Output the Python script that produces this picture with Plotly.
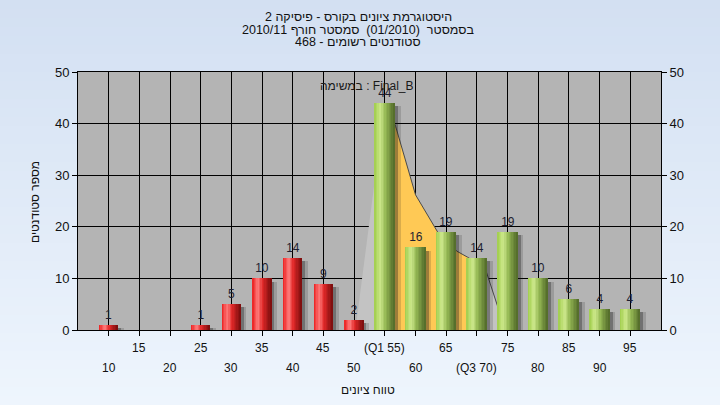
import plotly.graph_objects as go

# ---------------- data ----------------
grades = [10, 15, 20, 25, 30, 35, 40, 45, 50, 55, 60, 65, 70, 75, 80, 85, 90, 95]
counts = [1, 0, 0, 1, 5, 10, 14, 9, 2, 44, 16, 19, 14, 19, 10, 6, 4, 4]
tick_row1 = ["", "15", "", "25", "", "35", "", "45", "", "(Q1 55)", "", "65", "", "75", "", "85", "", "95"]
tick_row2 = ["10", "", "20", "", "30", "", "40", "", "50", "", "60", "", "(Q3 70)", "", "80", "", "90", ""]
pass_grade = 55
q1_grade = 55
q3_grade = 70
# smoothed distribution curve drawn behind the bars (grade, count)
curve_grade = [50.2, 55.0, 56.75, 60.0, 63.6, 66.7, 68.5, 70.0, 71.45, 73.4, 74.75]
curve_value = [0, 44, 39.5, 26.2, 19.0, 15.3, 14.1, 13.0, 11.6, 4.5, 0]

title_lines = ["היסטוגרמת ציונים בקורס - פיסיקה 2",
               "בסמסטר\u00a0\u00a0(01/2010)\u00a0\u00a0סמסטר חורף 2010/11",
               "סטודנטים רשומים - 468"]
task_label = "במשימה : Final_B"
x_title = "טווח ציונים"
y_title = "מספר סטודנטים"

FONT = "Liberation Sans, Arial, DejaVu Sans, sans-serif"
W, H = 720, 405
L, R, T, B = 78, 59, 72, 75
PH = H - T - B


def py(px):
    return (H - B - px) / PH


def px_x(px):
    return (px - L) / (W - L - R)


def lerp_col(stops, t):
    for (t0, c0), (t1, c1) in zip(stops[:-1], stops[1:]):
        if t0 <= t <= t1:
            f = (t - t0) / (t1 - t0) if t1 > t0 else 0
            return "rgb(%d,%d,%d)" % tuple(round(a + (b - a) * f) for a, b in zip(c0, c1))
    return "rgb(%d,%d,%d)" % stops[-1][1]


red_stops = [(0, (235, 30, 30)), (0.3, (255, 125, 125)), (0.55, (225, 40, 40)), (1, (120, 12, 12))]
green_stops = [(0, (160, 205, 75)), (0.3, (205, 232, 140)), (0.55, (150, 185, 85)), (1, (80, 105, 40))]

is_pass = [g >= pass_grade for g in grades]
widths = [3.25 if p else 3.0 for p in is_pass]

fig = go.Figure()

# shadows
for dx, alpha in [(0.95, 0.16), (0.5, 0.32)]:
    fig.add_trace(go.Bar(x=grades, y=[max(c - 0.6, 0) for c in counts],
                         width=widths, offset=[-w / 2 + dx for w in widths],
                         marker=dict(color="rgba(25,25,25,%s)" % alpha, line=dict(width=0)),
                         hoverinfo="skip"))

# cylinder bars drawn as vertical slices
N = 14
for i in range(N):
    t = (i + 0.5) / N
    cols = [lerp_col(green_stops if p else red_stops, t) for p in is_pass]
    fig.add_trace(go.Bar(x=grades, y=counts, width=[w / N + 0.02 for w in widths],
                         offset=[-w / 2 + i * w / N for w in widths],
                         marker=dict(color=cols, line=dict(width=0)), hoverinfo="skip"))

# value labels
fig.add_trace(go.Bar(x=grades, y=counts, width=widths,
                     text=[str(c) if c else "" for c in counts], textposition="outside",
                     constraintext="none", cliponaxis=False,
                     textfont=dict(family=FONT, size=12, color="#1e1e30"),
                     marker=dict(color="rgba(0,0,0,0)", line=dict(width=0)), hoverinfo="skip"))

# right axis helper
fig.add_trace(go.Scatter(x=[grades[0]], y=[0], yaxis="y2", mode="markers",
                         marker=dict(opacity=0), hoverinfo="skip", showlegend=False))

# background gradient
shapes = []
NS = 45
top_c, bot_c = (211, 224, 242), (238, 245, 253)
for i in range(NS):
    f = i / (NS - 1)
    c = tuple(round(a + (b - a) * f) for a, b in zip(top_c, bot_c))
    y0p = i * H / NS
    y1p = (i + 1) * H / NS + 1
    shapes.append(dict(type="rect", xref="paper", yref="paper", x0=-0.5, x1=1.5,
                       y0=py(y1p), y1=py(y0p), fillcolor="rgb(%d,%d,%d)" % c,
                       line=dict(width=0), layer="below"))
shapes.append(dict(type="rect", xref="paper", yref="paper", x0=0, x1=1, y0=0, y1=1,
                   fillcolor="#b4b4b4", line=dict(width=0), layer="below"))


def path_of(xs, ys, close=True):
    p = "M %s,%s " % (xs[0], 0 if close else ys[0])
    p += " ".join("L %s,%s" % (x, y) for x, y in zip(xs, ys))
    if close:
        p += " L %s,0 Z" % xs[-1]
    return p


# curve areas (between grid and bars)
shapes.append(dict(type="path", xref="x", yref="y", path=path_of(curve_grade, curve_value),
                   fillcolor="#c3c3c3", line=dict(width=0), layer="between"))
yx = [g for g in curve_grade if q1_grade <= g <= q3_grade]
yv = [v for g, v in zip(curve_grade, curve_value) if q1_grade <= g <= q3_grade]
shapes.append(dict(type="path", xref="x", yref="y", path=path_of(yx, yv),
                   fillcolor="#ffc955", line=dict(width=0), layer="between"))
lx = [g for g in curve_grade if g >= q1_grade]
lv = [v for g, v in zip(curve_grade, curve_value) if g >= q1_grade]
shapes.append(dict(type="path", xref="x", yref="y", path=path_of(lx, lv, close=False),
                   line=dict(color="#4a4a4a", width=1), layer="between"))

annotations = []
for line, ypx in zip(title_lines, [17, 30, 42]):
    annotations.append(dict(text=line, xref="paper", yref="paper", x=px_x(358), y=py(ypx),
                            showarrow=False, xanchor="center", yanchor="middle",
                            font=dict(family=FONT, size=12.5, color="#111111")))
annotations.append(dict(text=task_label, xref="paper", yref="paper", x=px_x(367), y=py(86),
                        showarrow=False, xanchor="center", yanchor="middle",
                        font=dict(family=FONT, size=12, color="#1a1a1a")))
for g, a, b in zip(grades, tick_row1, tick_row2):
    if a:
        annotations.append(dict(text=a, x=g, xref="x", yref="paper", y=py(348), showarrow=False,
                                xanchor="center", yanchor="middle",
                                font=dict(family=FONT, size=12, color="#111111")))
    if b:
        annotations.append(dict(text=b, x=g, xref="x", yref="paper", y=py(368), showarrow=False,
                                xanchor="center", yanchor="middle",
                                font=dict(family=FONT, size=12, color="#111111")))
annotations.append(dict(text=x_title, xref="paper", yref="paper", x=px_x(368), y=py(390),
                        showarrow=False, xanchor="center", yanchor="middle",
                        font=dict(family=FONT, size=12, color="#111111")))
annotations.append(dict(text=y_title, xref="paper", yref="paper", x=px_x(35), y=py(202),
                        showarrow=False, xanchor="center", yanchor="middle", textangle=-90,
                        font=dict(family=FONT, size=12, color="#111111")))

fig.update_layout(
    width=W, height=H, margin=dict(l=L, r=R, t=T, b=B, pad=0, autoexpand=False),
    paper_bgcolor="#e2ecf8", plot_bgcolor="#b4b4b4",
    barmode="overlay", bargap=0, showlegend=False,
    shapes=shapes, annotations=annotations,
    font=dict(family=FONT, size=12, color="#111111"),
    xaxis=dict(range=[5, 100], tickvals=grades, showticklabels=False, ticks="outside",
               ticklen=5, tickcolor="black", showgrid=True, gridcolor="black", gridwidth=1,
               showline=True, linecolor="black", linewidth=1, mirror=True, zeroline=False,
               fixedrange=True, automargin=False),
    yaxis=dict(range=[0, 50], dtick=10, ticks="outside", ticklen=5, tickcolor="black",
               showgrid=True, gridcolor="black", gridwidth=1, showline=True, linecolor="black",
               linewidth=1, zeroline=False, tickfont=dict(family=FONT, size=13, color="#111111"),
               fixedrange=True, automargin=False),
    yaxis2=dict(range=[0, 50], dtick=10, overlaying="y", side="right", ticks="outside",
                ticklen=5, tickcolor="black", showgrid=False, showline=True, linecolor="black",
                linewidth=1, zeroline=False, tickfont=dict(family=FONT, size=13, color="#111111"),
                fixedrange=True, automargin=False),
)

fig.write_html("out.html", config={"displayModeBar": False},
               post_script="document.body.style.margin='0';document.body.style.padding='0';")
